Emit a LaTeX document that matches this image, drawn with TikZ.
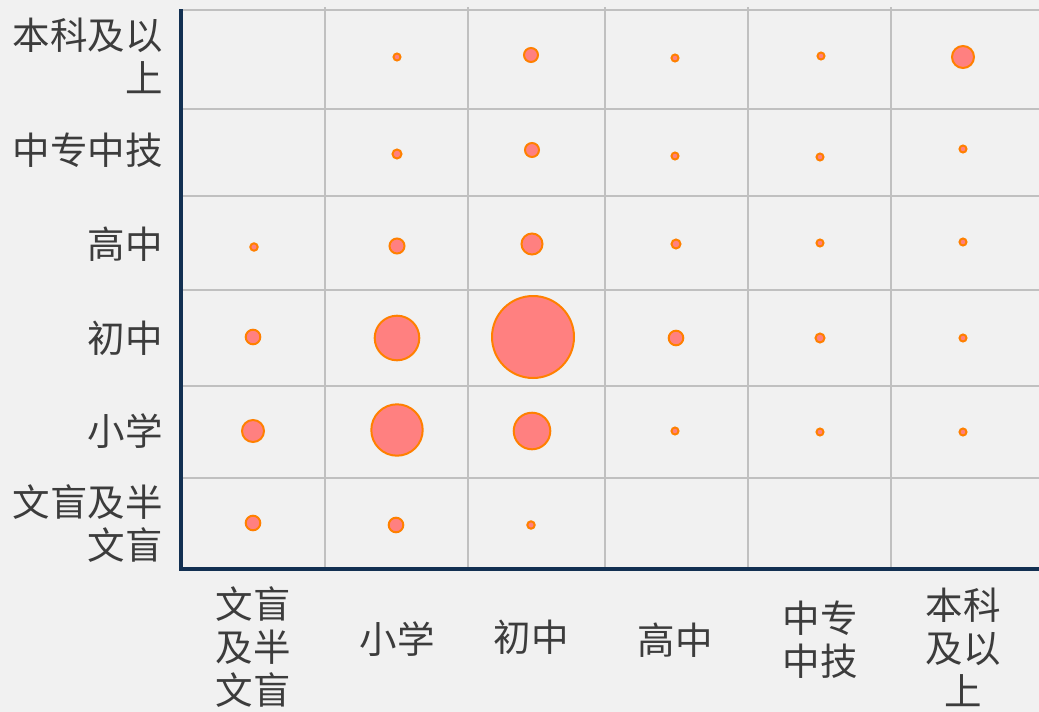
\documentclass[tikz,border=0pt]{standalone}
\usepackage{fontspec}
\newfontfamily\cjk{Noto Sans CJK SC}
\definecolor{bg}{RGB}{241,241,241}
\definecolor{gridc}{RGB}{192,192,192}
\definecolor{axisc}{RGB}{18,48,82}
\definecolor{bubfill}{RGB}{255,128,128}
\definecolor{bubline}{RGB}{255,128,0}
\definecolor{txt}{RGB}{60,60,60}
\tikzset{
  gridline/.style={draw=gridc, line width=2.8pt},
  axisline/.style={draw=axisc, line width=4.5pt},
  bubble/.style={circle, draw=bubline, fill=bubfill, line width=2pt, inner sep=0pt, minimum size=#1},
  ylab/.style={anchor=east, align=right, inner sep=0pt, text=txt, font=\cjk\fontsize{37.5}{43}\selectfont},
  xlab/.style={anchor=center, align=center, inner sep=0pt, text=txt, font=\cjk\fontsize{37.5}{43}\selectfont}
}
\begin{document}
\begin{tikzpicture}[x=1pt,y=-1pt]
\fill[bg] (0,0) rectangle (1039,712);
\useasboundingbox (0,0) rectangle (1039,712);
% grid
\foreach \y in {10,109,196,290,386,478} \draw[gridline] (181,\y) -- (1039,\y);
\foreach \x in {325,468,605,748,891} \draw[gridline] (\x,7) -- (\x,569);
% axes
\draw[axisline] (181,9) -- (181,569);
\draw[axisline] (179,569) -- (1039,569);
% bubbles (x, y, outer radius)
\foreach \n/\x/\y/\r in {
  a2/397/57/4.5, a3/531/55/8, a4/675/58/4.5, a5/821/56/4.5, a6/963/57/12,
  b2/397/154/5.5, b3/532/150/8, b4/675/156/4.5, b5/820/157/4.5, b6/963/149/4.5,
  c1/254/247/4.7, c2/397/246/8.5, c3/532/244/11.5, c4/676/244/5.5, c5/820/243/4.5, c6/963/242/4.5,
  d1/253/337/8.3, d2/397/338/23.3, d3/533/337/42, d4/676/338/8.3, d5/820/338/5.5, d6/963/338/4.5,
  e1/253/431/12, e2/397/430/26.7, e3/532/431/19.3, e4/675/431/4.5, e5/820/432/4.5, e6/963/432/4.5,
  f1/253/523/8.3, f2/396/525/8.3, f3/531/525/4.7}
  \node[bubble={(2*\r-2)*1pt}] (bub-\n) at (\x,\y) {};
% y labels
\node[ylab] (y1) at (163,56) {本科及以\\上};
\node[ylab] (y2) at (163,150) {中专中技};
\node[ylab] (y3) at (163,244) {高中};
\node[ylab] (y4) at (163,338) {初中};
\node[ylab] (y5) at (163,431) {小学};
\node[ylab] (y6) at (163,524) {文盲及半\\文盲};
% x labels
\node[xlab] (x1) at (253,647) {文盲\\及半\\文盲};
\node[xlab] (x2) at (397,639) {小学};
\node[xlab] (x3) at (531,637) {初中};
\node[xlab] (x4) at (675,640) {高中};
\node[xlab] (x5) at (820,640) {中专\\中技};
\node[xlab] (x6) at (963,647) {本科\\及以\\上};
\end{tikzpicture}
\end{document}
